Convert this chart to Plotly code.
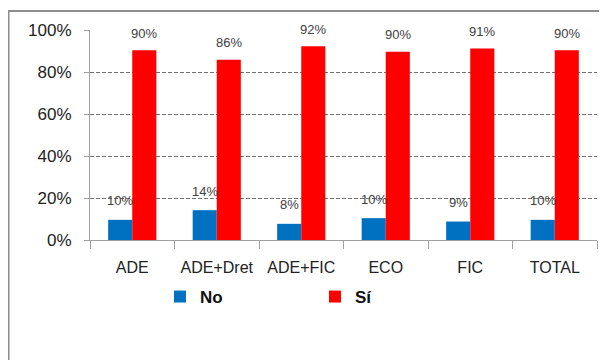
import plotly.graph_objects as go

categories = ["ADE", "ADE+Dret", "ADE+FIC", "ECO", "FIC", "TOTAL"]
no_vals = [9.6, 14.2, 7.7, 10.4, 8.8, 9.6]
si_vals = [90.4, 85.8, 92.3, 89.6, 91.2, 90.4]
y_ticks = [0, 20, 40, 60, 80, 100]
y_tick_labels = ["0%", "20%", "40%", "60%", "80%", "100%"]

BLUE = "#0070C0"
RED = "#FF0000"
LABEL_FONT = dict(family="Liberation Sans Narrow, Liberation Sans, Arial", size=13, color="#404040")

L, R, T, B = 82, 18, 22, 128
PW = 607 - L - R
PH = 360 - T - B

fig = go.Figure()
fig.add_trace(go.Bar(name="No", x=categories, y=no_vals, marker=dict(color=BLUE, line=dict(width=0))))
fig.add_trace(go.Bar(name="Sí", x=categories, y=si_vals, marker=dict(color=RED, line=dict(width=0))))

annotations = []
for c, n, s in zip(categories, no_vals, si_vals):
    annotations.append(dict(x=c, y=n, xref="x", yref="y", text=f"{round(n):.0f}%", showarrow=False,
                            xshift=-12, yshift=19, font=LABEL_FONT, yanchor="middle"))
    annotations.append(dict(x=c, y=s, xref="x", yref="y", text=f"{round(s):.0f}%", showarrow=False,
                            xshift=12, yshift=17, font=LABEL_FONT, yanchor="middle"))

fig.update_layout(
    width=607, height=360,
    margin=dict(l=L, r=R, t=T, b=B, autoexpand=False),
    paper_bgcolor="white", plot_bgcolor="white",
    barmode="group", bargap=0.43, bargroupgap=0,
    font=dict(family="Liberation Sans, Arial", size=16, color="#222222"),
    showlegend=True,
    legend=dict(orientation="h", x=0.138, y=(PH - 289 + T) / PH, xanchor="left", yanchor="middle",
                font=dict(family="Liberation Sans, Arial", size=17, color="#111111", weight="bold"),
                entrywidth=110, entrywidthmode="pixels", itemwidth=30, traceorder="normal"),
    annotations=annotations,
    shapes=[dict(type="rect", xref="paper", yref="paper",
                 x0=(0.5 - L) / PW, x1=1.1,
                 y0=-0.8, y1=(PH + T - 3) / PH,
                 line=dict(color="#8c8c8c", width=2), layer="below")],
)
fig.update_yaxes(range=[0, 100], tickvals=y_ticks, ticktext=y_tick_labels, showgrid=True,
                 gridcolor="#707070", griddash="4px,2px", gridwidth=1,
                 showline=True, linecolor="#a0a0a0", linewidth=1, ticks="outside",
                 ticklen=5, tickcolor="#a0a0a0", zeroline=False, ticklabelstandoff=9,
                 tickfont=dict(size=17, color="#222222"))
fig.update_xaxes(showline=True, linecolor="#a0a0a0", linewidth=1, ticks="outside",
                 tickson="boundaries", ticklen=8, tickcolor="#a0a0a0", ticklabelstandoff=13,
                 tickfont=dict(size=16, color="#222222"))

fig.write_html("out.html")
